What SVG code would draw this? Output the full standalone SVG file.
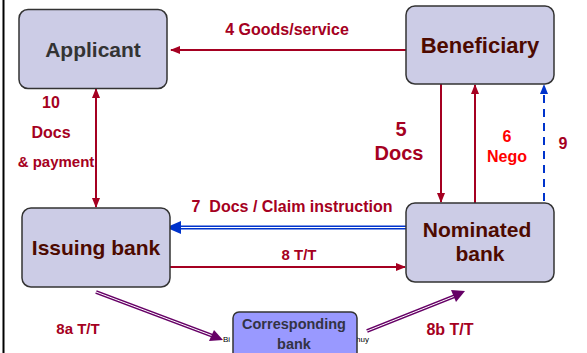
<svg xmlns="http://www.w3.org/2000/svg" width="587" height="353" viewBox="0 0 587 353">
  <defs>
    <style>
      .node { fill: #ccccE6; stroke: #333333; stroke-width: 1.5; }
      .corr { fill: #9999ff; stroke: #333333; stroke-width: 1.5; }
      .title { font-family: "Liberation Sans", Arial, sans-serif; font-weight: bold; font-size: 21px; text-anchor: middle; fill: #4d0a00; }
      .lbl { font-family: "Liberation Sans", Arial, sans-serif; font-weight: bold; font-size: 16px; fill: #a50021; text-anchor: middle; }
      .red { fill: #ff0000; }
      .flow { stroke: #a50021; stroke-width: 2; fill: none; }
      .tiny { font-family: "Liberation Sans", Arial, sans-serif; font-size: 8px; fill: #000000; }
    </style>
    <marker id="ah-red" viewBox="0 0 10 10" refX="9" refY="5" markerWidth="5" markerHeight="5" orient="auto-start-reverse" markerUnits="strokeWidth">
      <path d="M0,1 L10,5 L0,9 z" fill="#a50021"/>
    </marker>
  </defs>

  <rect width="587" height="353" fill="#ffffff"/>
  <!-- left border rule -->
  <line x1="3.5" y1="0" x2="3.5" y2="353" stroke="#000000" stroke-width="2"/>

  <g id="connectors">
    <!-- 4 Goods/service -->
    <line class="flow" x1="406" y1="50" x2="171" y2="50" marker-end="url(#ah-red)"/>
    <!-- 10 Docs & payment (both ways) -->
    <line class="flow" x1="96" y1="89" x2="96" y2="207" marker-start="url(#ah-red)" marker-end="url(#ah-red)"/>
    <!-- 5 Docs -->
    <line class="flow" x1="441" y1="84" x2="441" y2="202" marker-end="url(#ah-red)"/>
    <!-- 6 Nego -->
    <line class="flow" x1="475" y1="203" x2="475" y2="85" marker-end="url(#ah-red)"/>
    <!-- 9 -->
    <line x1="544" y1="201" x2="544" y2="92" stroke="#0033cc" stroke-width="2" stroke-dasharray="8,6"/>
    <path d="M544,84 L540,94 L548,94 z" fill="#0033cc"/>
    <!-- 7 Docs / Claim instruction (double line) -->
    <line x1="406" y1="227.5" x2="178" y2="227.5" stroke="#0033cc" stroke-width="4"/>
    <line x1="406" y1="227.5" x2="178" y2="227.5" stroke="#ffffff" stroke-width="1.2"/>
    <path d="M166,227.5 L181,221 L181,234 z" fill="#0033cc"/>
    <!-- 8 T/T -->
    <line class="flow" x1="170" y1="267" x2="405" y2="267" marker-end="url(#ah-red)"/>
    <!-- 8a T/T -->
    <line x1="96" y1="292" x2="213" y2="336" stroke="#660066" stroke-width="4"/>
    <line x1="96" y1="292" x2="213" y2="336" stroke="#ffffff" stroke-width="1"/>
    <path d="M223,340 L209,341 L214,330 z" fill="#660066"/>
    <!-- 8b T/T -->
    <line x1="367" y1="331" x2="455" y2="296" stroke="#660066" stroke-width="4"/>
    <line x1="367" y1="331" x2="455" y2="296" stroke="#ffffff" stroke-width="1"/>
    <path d="M465,291 L451,290 L456,302 z" fill="#660066"/>
  </g>

  <g id="labels">
    <text class="lbl" x="287" y="35">4 Goods/service</text>
    <text class="lbl" x="51" y="108">10</text>
    <text class="lbl" x="51" y="138">Docs</text>
    <text class="lbl" x="56" y="167" style="font-size:15px">&amp; payment</text>
    <text class="lbl" x="401" y="136" style="font-size:20px">5</text>
    <text class="lbl" x="399" y="160" style="font-size:20px">Docs</text>
    <text class="lbl red" x="507" y="142">6</text>
    <text class="lbl red" x="507" y="162">Nego</text>
    <text class="lbl" x="563" y="149">9</text>
    <text class="lbl" x="292" y="212" style="white-space:pre">7  Docs / Claim instruction</text>
    <text class="lbl" x="299" y="260" style="font-size:15px">8 T/T</text>
    <text class="lbl" x="78" y="334" style="font-size:15px">8a T/T</text>
    <text class="lbl" x="450" y="335">8b T/T</text>
    <text class="tiny" x="223" y="342">Bi</text>
    <text class="tiny" x="356" y="342">huy</text>
  </g>

  <g id="applicant">
    <rect class="node" x="19" y="9.5" width="148" height="79" rx="9"/>
    <text class="title" x="93" y="57" style="fill:#333333">Applicant</text>
  </g>
  <g id="beneficiary">
    <rect class="node" x="406" y="6" width="148" height="78" rx="9"/>
    <text class="title" x="480" y="53" style="font-size:22px">Beneficiary</text>
  </g>
  <g id="issuing-bank">
    <rect class="node" x="22" y="208" width="148" height="79" rx="9"/>
    <text class="title" x="96" y="255">Issuing bank</text>
  </g>
  <g id="nominated-bank">
    <rect class="node" x="406" y="203" width="148" height="79" rx="9"/>
    <text class="title" x="477" y="237">Nominated</text>
    <text class="title" x="480" y="261">bank</text>
  </g>
  <g id="corresponding-bank">
    <rect class="corr" x="233" y="312" width="124" height="50" rx="6"/>
    <text class="title" x="294" y="329" style="font-size:14.5px;fill:#333344">Corresponding</text>
    <text class="title" x="294" y="349" style="font-size:14.5px;fill:#333344">bank</text>
  </g>
</svg>
